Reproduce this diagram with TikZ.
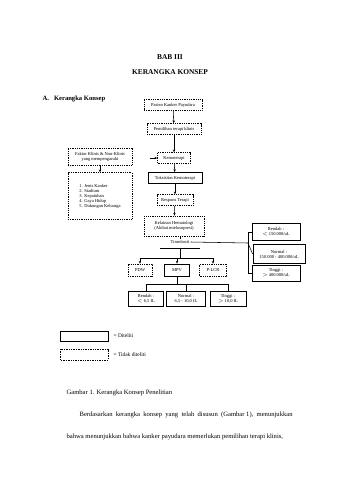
\documentclass[tikz,border=0pt]{standalone}
\usepackage{fontspec}
\setmainfont{Liberation Serif}
\usetikzlibrary{positioning,arrows.meta}
\newcommand\diagfont{\fontsize{4.5}{5}\selectfont}
\newcommand\bodyfont{\fontsize{6.6}{8}\selectfont}

\begin{document}
\begin{tikzpicture}[x=1pt,y=-1pt,line width=0.55pt,
    dbox/.style={draw,dash pattern=on 1pt off 0.8pt,font=\diagfont,inner sep=1pt,align=center},
    sbox/.style={draw,font=\diagfont,inner sep=1pt,align=center},
    arr/.style={-{Stealth[length=2.8pt,width=2.4pt]}},
  ]
    \useasboundingbox (0,0) rectangle (339,480);
    % Headings
    \node[font=\bfseries\fontsize{7.4}{8}\selectfont] (bab) at (170,57) {BAB III};
    \node[font=\bfseries\fontsize{7.4}{8}\selectfont] (judul) at (170,72) {KERANGKA KONSEP};
    \node[font=\bfseries\bodyfont,anchor=west] (sub) at (39,99) {A.\hspace{5pt}Kerangka Konsep};

    % Main chain
    \node[dbox,minimum width=58,minimum height=11] (pasien) at (173,105) {Pasien Kanker Payudara};
    \node[dbox,minimum width=54,minimum height=11] (terapi) at (174,129) {Pemilihan terapi klinis};
    \node[dbox,minimum width=33,minimum height=11] (kemo) at (174,158) {Kemoterapi};
    \node[sbox,thick,minimum width=54,minimum height=11] (toks) at (175,178) {Toksisitas Kemoterapi};
    \node[dbox,minimum width=36,minimum height=11] (respon) at (175,200) {Respons Terapi};
    \node[dbox,minimum width=60,minimum height=20] (hema) at (174,226) {Kelainan Hematologi\\(Akibat mielosupresi)};
    \node[font=\diagfont,inner sep=1pt] (trom) at (180,242) {Trombosit};

    \draw[arr] (pasien) -- (terapi);
    \draw[arr] (terapi) -- (kemo);
    \draw[arr] (kemo) -- (toks);
    \draw[arr] (toks) -- (respon);
    \draw[arr] (respon) -- (hema);
    \draw (hema.south -| trom) -- (trom.north);
    \coordinate (kiri) at (150,158);
    \draw[arr] (kiri) -- (kemo.west);

    % Factors
    \node[dbox,minimum width=64,minimum height=17] (faktor) at (100,157) {Faktor Klinis \& Non-Klinis\\yang mempengaruhi};
    \node[dbox,minimum width=64,minimum height=47,align=left] (daftar) at (100,196)
        {1. Jenis Kanker\\2. Stadium\\3. Kepatuhan\\4. Gaya Hidup\\5. Dukungan Keluarga};
    \draw[arr] (faktor) -- (daftar);

    % Platelet count
    \node[sbox,thick,minimum width=48,minimum height=17] (trendah) at (276,232) {Rendah :\\$<$ 150.000/uL};
    \node[sbox,thick,minimum width=52,minimum height=19] (tnormal) at (279,254) {Normal :\\150.000 - 400.000/uL};
    \node[sbox,thick,minimum width=48,minimum height=16] (ttinggi) at (276,273) {Tinggi :\\$>$ 400.000/uL};
    \coordinate (sudut) at (248,243);
    \draw[thick] (160,248) -- (200,248);
    \draw (trom.east) -- (sudut);
    \draw (sudut |- trendah) -- (sudut |- ttinggi);
    \draw (sudut |- trendah) -- (trendah.west);
    \draw (sudut) -- (tnormal.west);
    \draw (sudut |- ttinggi) -- (ttinggi.west);

    % Platelet indices
    \node[dbox,minimum width=24,minimum height=12] (pdw) at (140,270) {PDW};
    \node[sbox,thick,minimum width=25,minimum height=12] (mpv) at (177,270) {MPV};
    \node[dbox,minimum width=27,minimum height=12] (plcr) at (213,270) {P-LCR};
    \coordinate (cabang) at (180,258);
    \draw (180,248) -- (cabang);
    \draw (pdw |- cabang) -- (plcr |- cabang);
    \draw[arr] (pdw |- cabang) -- (pdw);
    \draw[arr] (mpv |- cabang) -- (mpv);
    \draw[arr] (plcr |- cabang) -- (plcr);

    % MPV categories
    \node[sbox,thick,minimum width=35,minimum height=15] (mrendah) at (146,299) {Rendah :\\$<$ 6,5 fL};
    \node[sbox,thick,minimum width=39,minimum height=15] (mnormal) at (186,299) {Normal :\\6,5 - 10,0 fL};
    \node[sbox,thick,minimum width=36,minimum height=15] (mtinggi) at (228,299) {Tinggi :\\$>$ 10,0 fL};
    \coordinate (cabang2) at (177,284);
    \draw (mpv) -- (cabang2);
    \draw (mrendah |- cabang2) -- (mtinggi |- cabang2);
    \draw (mrendah |- cabang2) -- (mrendah);
    \draw (mnormal |- cabang2) -- (mnormal);
    \draw (mtinggi |- cabang2) -- (mtinggi);

    % Legend
    \draw (60,331) rectangle (108,341);
    \node[font=\fontsize{5.4}{6}\selectfont,anchor=west] (diteliti) at (110,336) {= Diteliti};
    \draw[dash pattern=on 1.4pt off 1pt] (60,349) rectangle (108,360);
    \node[font=\fontsize{5.4}{6}\selectfont,anchor=west] (tidak) at (110,355) {= Tidak diteliti};

    % Caption and text
    \node[font=\bodyfont,anchor=west] (gambar) at (63,393) {Gambar 1. Kerangka Konsep Penelitian};
    \node[font=\bodyfont,anchor=west] (par1) at (76,415) {Berdasarkan\ \ kerangka\ \ konsep\ \ yang\ \ telah\ \ disusun\ \ (Gambar 1),\ \ menunjukkan};
    \node[font=\bodyfont,anchor=west] (par2) at (63,437) {bahwa menunjukkan bahwa kanker payudara memerlukan pemilihan terapi klinis,};
\end{tikzpicture}
\end{document}
